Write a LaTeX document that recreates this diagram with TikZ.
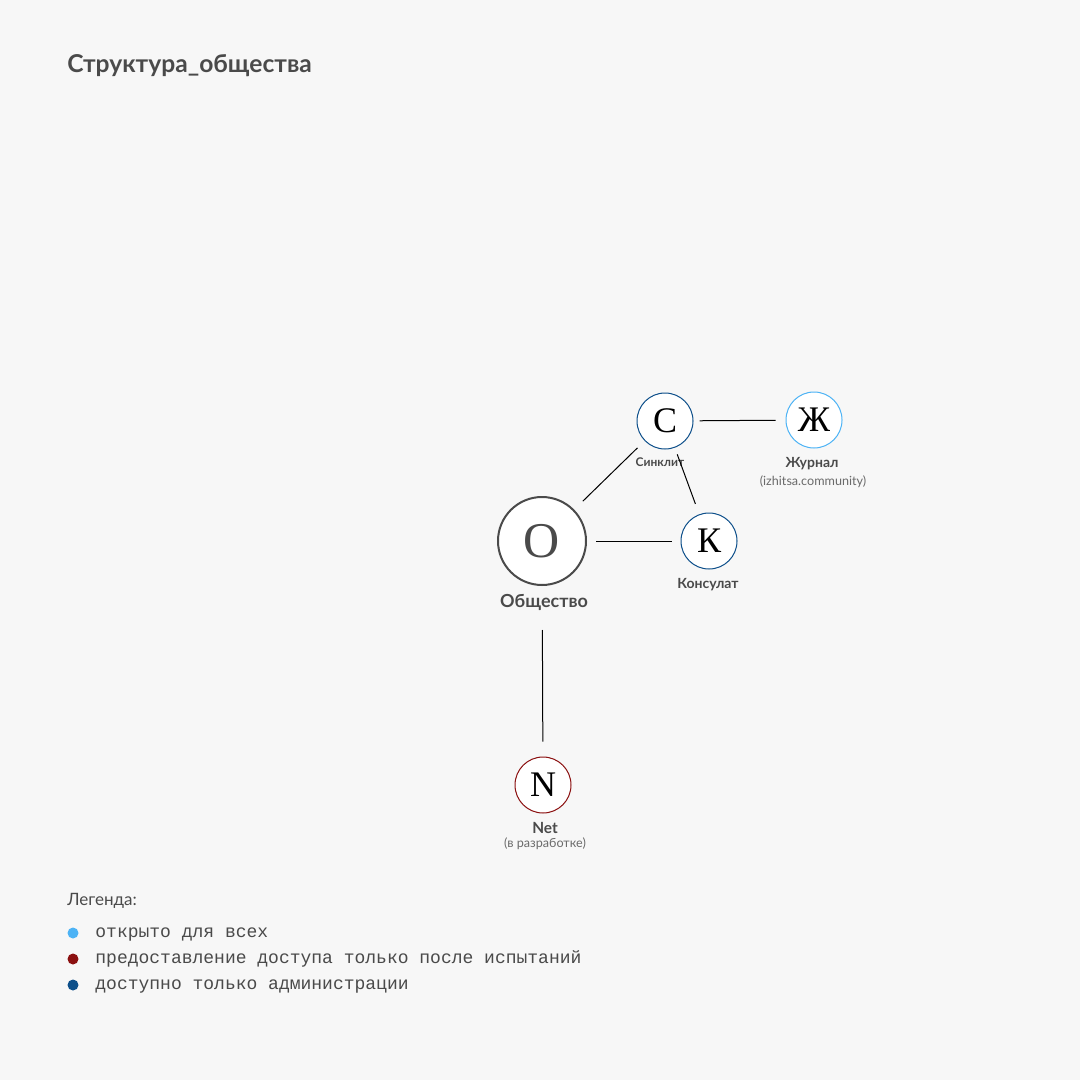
\documentclass[tikz,border=0pt]{standalone}
\usepackage{fontspec}
\setmainfont{Lato}
\setmonofont{Liberation Mono}
\newfontfamily\letterfont{Liberation Serif}
\usetikzlibrary{positioning}
\definecolor{bg}{HTML}{F7F7F7}
\definecolor{ink}{HTML}{4A4A4A}
\definecolor{soft}{HTML}{6A6A6A}
\definecolor{openblue}{HTML}{4DB3F5}
\definecolor{trialred}{HTML}{8B1010}
\definecolor{adminblue}{HTML}{0D4F8A}

\begin{document}
\begin{tikzpicture}[x=0.5pt,y=-0.5pt,
  member/.style={circle,draw,fill=white,line width=0.5pt,minimum size=28pt,inner sep=0pt,
    font=\letterfont\fontsize{18}{18}\selectfont},
  core/.style={member,draw=ink,text=ink,line width=1pt,minimum size=44pt,
    font=\letterfont\fontsize{25}{25}\selectfont},
  tag/.style={anchor=base,inner sep=0pt,text=ink,font=\bfseries\fontsize{#1}{#1}\selectfont},
  note/.style={anchor=base,inner sep=0pt,text=soft,font=\fontsize{6.3}{7}\selectfont},
  dot/.style={circle,inner sep=0pt,minimum size=5.5pt},
  legend/.style={anchor=base west,inner sep=0pt,text=ink,font=\ttfamily\fontsize{9}{10}\selectfont}]
	\fill[bg] (0,0) rectangle (1080,1080);
	\useasboundingbox (0,0) rectangle (1080,1080);
	\node[anchor=base west,inner sep=0pt,text=ink,font=\bfseries\fontsize{12.3}{14}\selectfont] (title) at (67,73) {Структура\_общества};
	% members
	\node[core] (O) at (542,541) {О};
	\node[member,draw=adminblue] (C) at (665,421) {С};
	\node[member,draw=openblue] (J) at (814,420) {Ж};
	\node[member,draw=adminblue] (K) at (709,541) {К};
	\node[member,draw=trialred] (N) at (543,785) {N};
	% names
	\node[tag=9] (lblO) at (544,607) {Общество};
	\node[tag=6] (lblC) at (660,466) {Синклит};
	\node[tag=7] (lblJ) at (812,467) {Журнал};
	\node[note] (urlJ) at (813,485) {(izhitsa.community)};
	\node[tag=7] (lblK) at (708,588) {Консулат};
	\node[tag=7.7] (lblN) at (545,833) {Net};
	\node[note] (devN) at (545,847) {(в разработке)};
	\tikzset{link/.style={-,draw=black,line width=0.5pt}}
	\path
	(O) edge [link,shorten <=6pt,shorten >=5pt] (C)
	(O) edge [link,shorten <=4.5pt,shorten >=4.5pt] (K)
	(C) edge [link,shorten <=3pt,shorten >=5pt] (J)
	(C) edge [link,shorten <=3.5pt,shorten >=5.5pt] (K)
	(O) edge [link,shorten <=22pt,shorten >=7.5pt] (N);
	% legend
	\node[anchor=base west,inner sep=0pt,text=ink,font=\fontsize{8.5}{10}\selectfont] (legtitle) at (67,905) {Легенда:};
	\node[dot,fill=openblue] (d1) at (73,933) {};
	\node[dot,fill=trialred] (d2) at (73,959) {};
	\node[dot,fill=adminblue] (d3) at (73,985) {};
	\node[legend] (t1) at (95,937) {открыто для всех};
	\node[legend] (t2) at (95,963) {предоставление доступа только после испытаний};
	\node[legend] (t3) at (95,989) {доступно только администрации};
\end{tikzpicture}
\end{document}
